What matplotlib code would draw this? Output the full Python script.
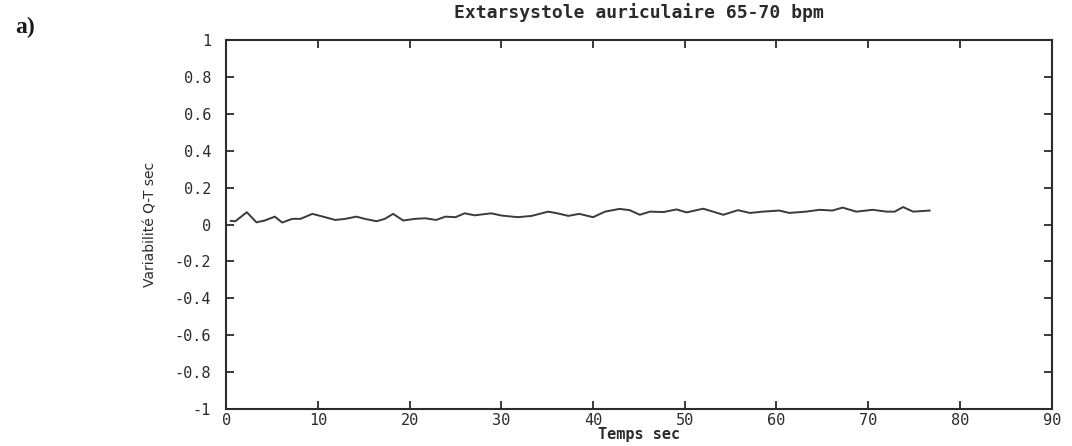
import matplotlib
matplotlib.use("Agg")
import matplotlib.pyplot as plt

# QT variability over time (seconds) during atrial extrasystole, 65-70 bpm
temps = [0.5, 1.0, 2.25, 3.3, 4.2, 5.3, 6.1, 7.2, 8.1, 9.4, 10.4, 11.9, 13.0, 14.2,
         15.1, 16.4, 17.3, 18.2, 19.3, 20.6, 21.7, 22.9, 23.9, 25.0, 26.0, 27.1,
         28.9, 30.0, 31.8, 33.3, 35.1, 36.2, 37.3, 38.5, 40.0, 41.3, 42.9, 44.0,
         45.1, 46.2, 47.7, 49.1, 50.2, 52.0, 53.1, 54.2, 55.8, 57.1, 58.5, 60.3,
         61.4, 63.2, 64.7, 66.1, 67.2, 68.7, 70.5, 72.0, 72.9, 73.8, 74.9, 76.7]
variabilite = [0.02, 0.018, 0.067, 0.012, 0.022, 0.043, 0.011, 0.031, 0.031, 0.058,
               0.045, 0.025, 0.031, 0.043, 0.031, 0.018, 0.031, 0.058, 0.022, 0.031,
               0.034, 0.025, 0.043, 0.040, 0.061, 0.050, 0.061, 0.049, 0.040, 0.047,
               0.070, 0.060, 0.047, 0.058, 0.040, 0.070, 0.085, 0.078, 0.053, 0.070,
               0.068, 0.082, 0.066, 0.086, 0.070, 0.053, 0.078, 0.063, 0.070, 0.076,
               0.063, 0.070, 0.080, 0.076, 0.092, 0.070, 0.080, 0.070, 0.070, 0.095,
               0.070, 0.076]

x_ticks = [0, 10, 20, 30, 40, 50, 60, 70, 80, 90]
y_ticks = [1, 0.8, 0.6, 0.4, 0.2, 0, -0.2, -0.4, -0.6, -0.8, -1]
y_tick_labels = ["1", "0.8", "0.6", "0.4", "0.2", "0", "-0.2", "-0.4", "-0.6", "-0.8", "-1"]

titre = "Extarsystole auriculaire 65-70 bpm"
label_x = "Temps sec"
label_y = "Variabilité Q-T sec"
panneau = "a)"

ink = "#2b2b2b"
mono = "DejaVu Sans Mono"

fig = plt.figure(figsize=(10.72, 4.46), dpi=100)
ax = fig.add_axes([0.211, 0.083, 0.770, 0.827])

ax.plot(temps, variabilite, color="#3a3a3a", linewidth=1.4)

ax.set_xlim(0, 90)
ax.set_ylim(-1, 1)
ax.set_xticks(x_ticks)
ax.set_xticklabels([str(t) for t in x_ticks], fontfamily=mono, fontsize=11, color=ink)
ax.set_yticks(y_ticks)
ax.set_yticklabels(y_tick_labels, fontfamily=mono, fontsize=11, color=ink)

ax.tick_params(axis="both", direction="in", length=6, width=1.3, color=ink,
               top=True, right=True)
ax.tick_params(axis="x", pad=3)
ax.tick_params(axis="y", pad=11)
for side in ax.spines.values():
    side.set_linewidth(1.5)
    side.set_color(ink)

ax.set_title(titre, fontfamily=mono, fontsize=13, fontweight="bold", color=ink, pad=16)
ax.set_xlabel(label_x, fontfamily=mono, fontsize=11, fontweight="bold", color=ink,
              labelpad=-1)
ax.set_ylabel(label_y, fontfamily="DejaVu Sans", fontsize=10, color=ink, labelpad=12)

fig.text(0.014, 0.925, panneau, fontfamily="Liberation Serif", fontweight="bold",
         fontsize=17, color="#1a1a1a")

fig.savefig("out.png", dpi=100, facecolor="white")
